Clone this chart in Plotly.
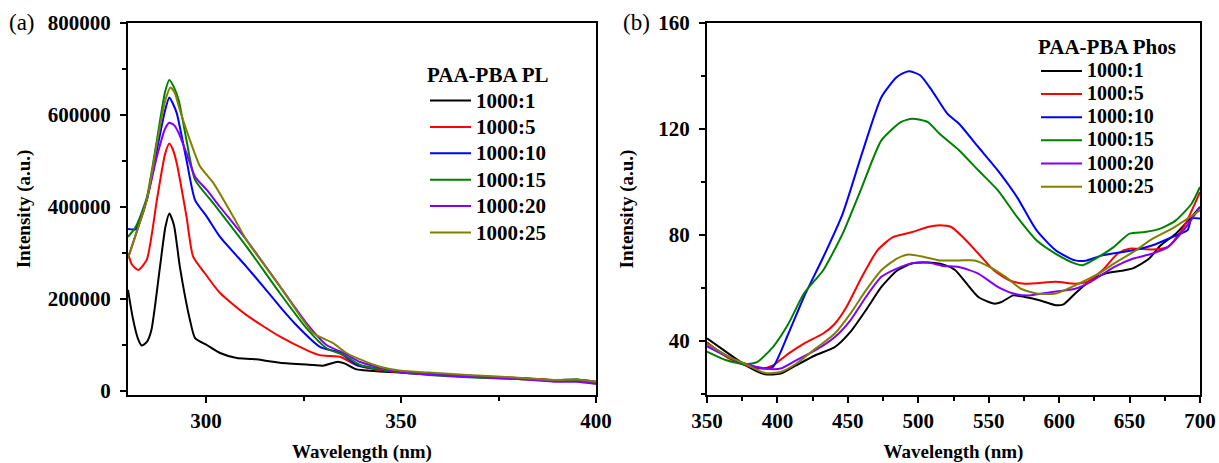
import plotly.graph_objects as go

# ---------------- data: panel (a) PL ----------------
names = ["1000:1", "1000:5", "1000:10", "1000:15", "1000:20", "1000:25"]
colors = ["#000000", "#FF0000", "#0000FF", "#008000", "#8000FF", "#808000"]

pl_x_1 = [280, 281.2, 282.5, 283.5, 284.8, 286, 288.2, 289.6, 290.6, 291.8, 293.3, 295.9, 297.2, 300.2, 303.6, 307.9, 312, 319, 327.5, 330, 333.8, 335.5, 338.6, 342, 350, 357, 367, 380, 390, 395, 400]
pl_y_1 = [220000, 160000, 115000, 99000, 106000, 132600, 270000, 357000, 386000, 360000, 270000, 154000, 115000, 100000, 82600, 71700, 69600, 61500, 56500, 55000, 63700, 60000, 47000, 44000, 40000, 37000, 33000, 28000, 24000, 25000, 20000]

pl_x_5 = [280, 281, 282.6, 284.8, 287.4, 289.5, 290.6, 291.5, 292.5, 295, 296.7, 299.7, 303.6, 310.4, 319, 325.8, 329.2, 332, 334.4, 338.6, 344.6, 350, 357, 367, 380, 390, 395, 400]
pl_y_5 = [300000, 275000, 263000, 285000, 415000, 515000, 538000, 525000, 495000, 379000, 292000, 256000, 213000, 165000, 118000, 89000, 78000, 76000, 74600, 56500, 45700, 41000, 38000, 33000, 28000, 23000, 24000, 19000]

pl_x_10 = [280, 282, 284.8, 287.4, 289.5, 290.6, 291.5, 292.5, 295, 297.2, 300.2, 303.6, 310.4, 314.7, 319, 323.2, 329.2, 334.4, 338.6, 344.6, 350, 357, 367, 380, 390, 395, 400]
pl_y_10 = [352000, 352000, 415000, 524000, 610000, 638000, 625000, 604000, 502000, 415000, 379000, 335000, 270000, 227000, 183000, 143000, 96000, 82600, 56500, 47800, 41000, 37000, 32000, 27000, 22000, 23000, 18000]

pl_x_15 = [280, 282, 284.8, 287.4, 289.5, 290.6, 291.8, 293, 295, 297.2, 301.9, 310.4, 319, 325.8, 330.9, 335.3, 339.5, 345, 350, 357, 367, 380, 390, 395, 400]
pl_y_15 = [335000, 357000, 420000, 545000, 650000, 676000, 660000, 632000, 545000, 459000, 408000, 314000, 212000, 136000, 93000, 78000, 56500, 47000, 40000, 35000, 30000, 26000, 22000, 22000, 18000]

pl_x_20 = [280, 284.8, 287.4, 289.5, 290.6, 291.8, 293, 295, 297.2, 300.2, 303.6, 310.4, 319, 325.8, 330.9, 335.3, 339.5, 345, 350, 357, 367, 380, 390, 395, 400]
pl_y_20 = [289000, 415000, 509000, 570000, 583000, 578000, 561000, 517000, 466000, 437000, 400000, 328000, 227000, 147000, 100000, 82600, 63000, 50000, 41000, 36000, 31000, 26000, 20000, 20000, 15000]

pl_x_25 = [280, 284.8, 287.4, 289.5, 290.9, 292, 293.3, 295.9, 298.5, 301.9, 307, 310.4, 319, 327.5, 332.6, 336, 340.3, 344.6, 350, 357, 367, 380, 390, 395, 400]
pl_y_25 = [289000, 415000, 538000, 630000, 660000, 648000, 611000, 545000, 488000, 452000, 379000, 328000, 227000, 126000, 104000, 82600, 66000, 52800, 44000, 40000, 35000, 29000, 24000, 25000, 20000]

# ---------------- data: panel (b) Phos ----------------
ph_x_1 = [350, 363.8, 377.5, 391.3, 402.3, 413.3, 427, 440.8, 451.8, 462.8, 473.8, 484.8, 495.8, 506.8, 517.9, 526.1, 534.4, 542.6, 553.6, 559.1, 567.4, 575.6, 586.6, 597.6, 603.1, 611.4, 622.4, 633.4, 644.4, 652.7, 663.7, 671.9, 682.9, 694, 700]
ph_y_1 = [41, 35.8, 30.8, 27.4, 27.7, 30.8, 34.6, 37.7, 43.4, 51.6, 60.4, 66.5, 69.3, 69.6, 68.8, 66.8, 61.6, 56.6, 54.1, 54.7, 57.2, 56.6, 55.3, 53.5, 53.8, 57.9, 62.9, 65.5, 66.5, 67.5, 71, 76, 80.5, 86.8, 90.6]

ph_x_5 = [350, 363.8, 377.5, 388.5, 396.8, 407.8, 418.8, 432.5, 440.8, 449, 460, 471, 482, 495.8, 506.8, 515.1, 523.4, 531.6, 542.6, 553.6, 564.6, 575.6, 597.6, 611.4, 619.7, 630.7, 641.7, 649.9, 666.4, 677.4, 688.4, 700]
ph_y_5 = [39.5, 34, 30.8, 29.6, 30.8, 35.2, 39, 42.8, 46.5, 52.8, 64.2, 74.2, 79.2, 81.1, 83, 83.7, 83, 79.2, 73, 66.7, 62.9, 61.6, 62.3, 61.6, 62.3, 66.7, 73, 74.8, 74.5, 75.5, 83, 96.2]

ph_x_10 = [350, 363.8, 377.5, 391, 396.8, 407.8, 418.8, 432.5, 446.3, 460, 473.8, 484.8, 493.1, 501.3, 509.6, 520.6, 528.9, 542.6, 556.4, 570.1, 583.9, 597.6, 611.4, 619.7, 630.7, 652.7, 666.4, 680.2, 691.2, 694, 700]
ph_y_10 = [39, 34.5, 31, 29.6, 30.2, 42.8, 56.6, 71.6, 88, 110.7, 132, 139.6, 141.8, 140.3, 134.6, 125.8, 122, 113.2, 104.4, 94.3, 81.8, 74.2, 70.4, 70.4, 72.3, 74.2, 76.1, 79.2, 81.8, 86.2, 86.2]

ph_x_15 = [350, 363.8, 377.5, 385.8, 396.8, 407.8, 418.8, 432.5, 446.3, 460, 473.8, 487.6, 495.8, 506.8, 515.1, 528.9, 542.6, 556.4, 570.1, 583.9, 597.6, 611.4, 616.9, 627.9, 638.9, 649.9, 660.9, 671.9, 682.9, 694, 700]
ph_y_15 = [36, 32.7, 31.2, 32.1, 37.7, 46.5, 57.9, 66.7, 80.5, 98.1, 115.7, 122.6, 123.9, 122.6, 118.2, 112, 104.4, 96.9, 86.8, 78, 72.9, 69.2, 68.6, 71.7, 75.5, 80.5, 81.1, 82.4, 85.5, 91.8, 98.1]

ph_x_20 = [350, 363.8, 377.5, 391.3, 402.3, 413.3, 427, 440.8, 451.8, 462.8, 473.8, 484.8, 495.8, 506.8, 517.9, 528.9, 542.6, 556.4, 567.4, 578.4, 594.9, 611.4, 622.4, 638.9, 652.7, 666.4, 677.4, 688.4, 700]
ph_y_20 = [38, 34.3, 31.4, 29.6, 29.6, 32.7, 36.5, 41.5, 47.8, 56.6, 64.2, 67.3, 69.3, 69.6, 68.3, 67.9, 65.4, 60.4, 57.9, 57.2, 58.5, 59.7, 62.3, 67.9, 71.1, 73, 75.5, 81.8, 90.6]

ph_x_25 = [350, 363.8, 377.5, 391.3, 402.3, 413.3, 427, 440.8, 451.8, 462.8, 473.8, 484.8, 493.1, 504.1, 515.1, 528.9, 539.9, 550.9, 561.9, 572.9, 583.9, 597.6, 611.4, 627.9, 638.9, 652.7, 666.4, 680.2, 700]
ph_y_25 = [39, 34.5, 31.2, 27.9, 28.3, 31.4, 37.1, 42.8, 50.3, 59.1, 66.7, 71.1, 72.6, 71.7, 70.4, 70.4, 70.4, 67.9, 64.2, 59.7, 57.9, 57.9, 61, 65.4, 69.2, 73.6, 78.6, 82.4, 89.3]

pl_xs = [pl_x_1, pl_x_5, pl_x_10, pl_x_15, pl_x_20, pl_x_25]
pl_ys = [pl_y_1, pl_y_5, pl_y_10, pl_y_15, pl_y_20, pl_y_25]
ph_xs = [ph_x_1, ph_x_5, ph_x_10, ph_x_15, ph_x_20, ph_x_25]
ph_ys = [ph_y_1, ph_y_5, ph_y_10, ph_y_15, ph_y_20, ph_y_25]

FONT = "Liberation Serif"

fig = go.Figure()
for i in range(6):
    fig.add_trace(go.Scatter(x=pl_xs[i], y=pl_ys[i], mode="lines",
                             name='<span style="font-size:21px">' + names[i] + '</span>',
                             line=dict(color=colors[i], width=2, shape="spline", smoothing=0.6),
                             xaxis="x", yaxis="y", legend="legend"))
for i in range(6):
    fig.add_trace(go.Scatter(x=ph_xs[i], y=ph_ys[i], mode="lines",
                             name='<span style="font-size:20px">' + names[i] + '</span>',
                             line=dict(color=colors[i], width=2, shape="spline", smoothing=0.6),
                             xaxis="x2", yaxis="y2", legend="legend2"))

ydom = [1 - 395 / 463, 1 - 23 / 463]
tickfont = dict(family=FONT, size=21, color="black", weight="bold")
titlefont = dict(family=FONT, size=19, color="black", weight="bold")

common = dict(showline=True, linewidth=2, linecolor="black", mirror=True,
              ticks="outside", ticklen=6, tickwidth=2, tickcolor="black",
              showgrid=False, zeroline=False, tickfont=tickfont, automargin=False)

fig.update_layout(
    width=1219, height=463,
    margin=dict(l=0, r=0, t=0, b=0, autoexpand=False),
    paper_bgcolor="white", plot_bgcolor="white",
    xaxis=dict(domain=[128 / 1219, 596 / 1219], range=[280, 400], tick0=300, dtick=50,
               minor=dict(dtick=25, tick0=300, ticks="outside", ticklen=4, tickwidth=2, tickcolor="black"),
               title=dict(text="Wavelength (nm)", font=titlefont, standoff=12), anchor="y", **common),
    yaxis=dict(domain=ydom, range=[-8700, 800000], tick0=0, dtick=200000, tickformat="d",
               ticklabelstandoff=5,
               minor=dict(dtick=100000, tick0=0, ticks="outside", ticklen=4, tickwidth=2, tickcolor="black"),
               title=dict(text="Intensity (a.u.)", font=titlefont, standoff=12), anchor="x", **common),
    xaxis2=dict(domain=[707 / 1219, 1200 / 1219], range=[350, 700], tick0=350, dtick=50,
                minor=dict(dtick=25, tick0=350, ticks="outside", ticklen=4, tickwidth=2, tickcolor="black"),
                title=dict(text="Wavelength (nm)", font=titlefont, standoff=12), anchor="y2", **common),
    yaxis2=dict(domain=ydom, range=[19.6, 160], tick0=0, dtick=40, ticklabelstandoff=5,
                minor=dict(dtick=20, tick0=0, ticks="outside", ticklen=4, tickwidth=2, tickcolor="black"),
                title=dict(text="Intensity (a.u.)", font=titlefont, standoff=20), anchor="x2", **common),
    legend=dict(x=425 / 1219, y=1 - 55 / 463, xanchor="left", yanchor="top",
                bgcolor="rgba(0,0,0,0)", borderwidth=0, itemwidth=41,
                font=dict(family=FONT, size=18, color="black", weight="bold"),
                title=dict(text="PAA-PBA PL", font=dict(family=FONT, size=21, color="black", weight="bold"))),
    legend2=dict(x=1036 / 1219, y=1 - 27 / 463, xanchor="left", yanchor="top",
                 bgcolor="rgba(0,0,0,0)", borderwidth=0, itemwidth=41,
                 font=dict(family=FONT, size=15.5, color="black", weight="bold"),
                 title=dict(text="PAA-PBA Phos", font=dict(family=FONT, size=21, color="black", weight="bold"))),
    annotations=[
        dict(text="(a)", x=7 / 1219, y=1 - 22 / 463, xref="paper", yref="paper", xanchor="left",
             yanchor="middle", showarrow=False, font=dict(family=FONT, size=23, color="black")),
        dict(text="(b)", x=621 / 1219, y=1 - 22 / 463, xref="paper", yref="paper", xanchor="left",
             yanchor="middle", showarrow=False, font=dict(family=FONT, size=23, color="black")),
    ],
)

fig.write_html("out.html")
